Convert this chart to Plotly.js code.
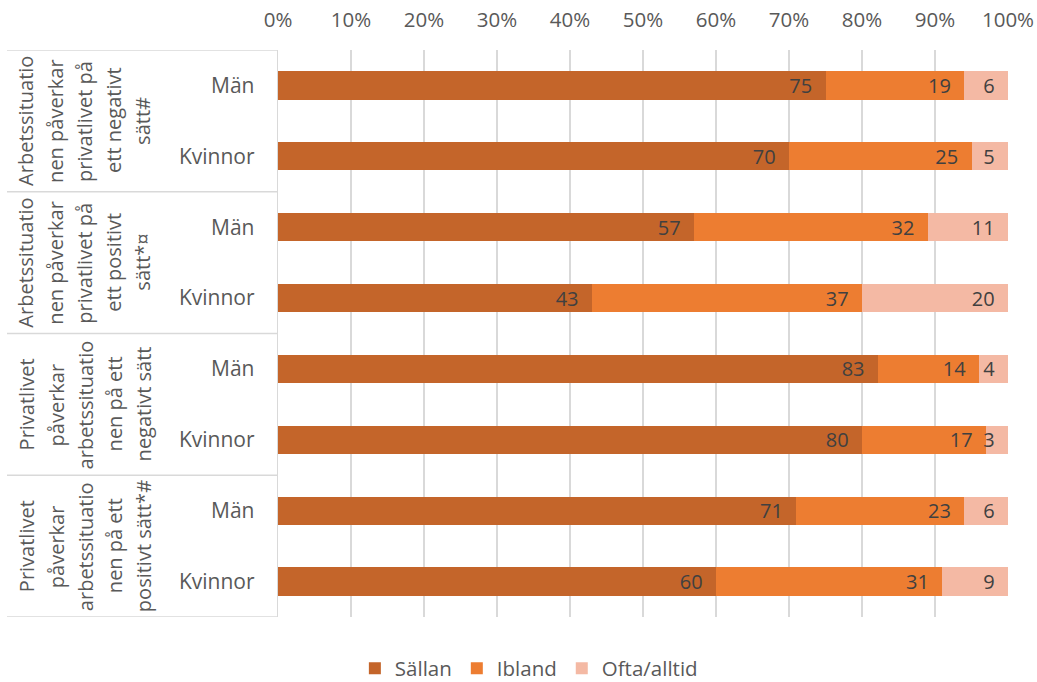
<!DOCTYPE html>
<html>
<head>
<meta charset="utf-8">
<script src="https://cdn.plot.ly/plotly-3.0.1.min.js"></script>
<style>html,body{margin:0;padding:0;background:#fff}#chart{width:1037px;height:682px}</style>
</head>
<body>
<div id="chart"></div>
<script>
// ---- data ----
const groupLabels = [
  ["Arbetssituatio", "nen påverkar", "privatlivet på", "ett negativt", "sätt#"],
  ["Arbetssituatio", "nen påverkar", "privatlivet på", "ett positivt", "sätt*¤"],
  ["Privatlivet", "påverkar", "arbetssituatio", "nen på ett", "negativt sätt"],
  ["Privatlivet", "påverkar", "arbetssituatio", "nen på ett", "positivt sätt*#"]
];
const subCategories = ["Män", "Kvinnor", "Män", "Kvinnor", "Män", "Kvinnor", "Män", "Kvinnor"];
const seriesNames = ["Sällan", "Ibland", "Ofta/alltid"];
const sallan = [75, 70, 57, 43, 83, 80, 71, 60];
const ibland = [19, 25, 32, 37, 14, 17, 23, 31];
const ofta   = [6, 5, 11, 20, 4, 3, 6, 9];
const xTicks = [0, 10, 20, 30, 40, 50, 60, 70, 80, 90, 100];

// ---- styles ----
const colors = ["#C4652A", "#ED7D31", "#F4B9A4"];
const FONT = "'Open Sans', Lato, sans-serif";
const rows = subCategories.map((_, i) => i);
const series = [sallan, ibland, ofta];

const traces = series.map((vals, k) => ({
  type: "bar",
  orientation: "h",
  name: seriesNames[k],
  y: rows,
  x: vals,
  text: vals.map(String),
  texttemplate: "%{text}\u00a0\u00a0",
  textposition: "inside",
  insidetextanchor: "end",
  textangle: 0,
  constraintext: "none",
  textfont: {family: FONT, size: 20, color: "#404040"},
  marker: {color: colors[k], line: {width: 0}},
  hoverinfo: "skip"
}));

// group label box lines and rotated labels
const plotLeft = 278, plotW = 730;
const px2paper = p => (p - plotLeft) / plotW;
const shapes = [];
[-0.5, 1.5, 3.5, 5.5, 7.5].forEach(yv => {
  shapes.push({type: "line", xref: "paper", yref: "y", x0: px2paper(7), x1: 0, y0: yv, y1: yv,
    line: {color: "#D9D9D9", width: 1.3}});
});
const annotations = [];
const lineX = [26, 56, 85, 114, 143];
groupLabels.forEach((lines, g) => {
  lines.forEach((t, j) => {
    annotations.push({
      xref: "paper", yref: "y", x: px2paper(lineX[j]), y: g * 2 + 0.5,
      text: t, showarrow: false, textangle: -90,
      xanchor: "center", yanchor: "middle",
      font: {family: FONT, size: 20, color: "#595959"}
    });
  });
});

const layout = {
  width: 1037, height: 682,
  margin: {l: plotLeft, r: 1037 - plotLeft - plotW, t: 50, b: 65},
  barmode: "stack",
  barnorm: "percent",
  bargap: 0.6,
  paper_bgcolor: "#fff", plot_bgcolor: "#fff",
  font: {family: FONT, size: 20, color: "#595959"},
  xaxis: {
    side: "top", range: [0, 100], tickvals: xTicks, ticktext: xTicks.map(v => v + "%"),
    showgrid: true, gridcolor: "#D9D9D9", gridwidth: 1.3, zeroline: false,
    showline: false, ticks: "", fixedrange: true, ticklabelstandoff: 18,
    tickfont: {family: FONT, size: 20.5, color: "#595959"}
  },
  yaxis: {
    range: [7.5, -0.5], tickvals: rows, ticktext: subCategories,
    showgrid: false, zeroline: false, showline: true, linecolor: "#D9D9D9", linewidth: 1.3,
    ticks: "", ticklabelstandoff: 18,
    tickfont: {family: FONT, size: 21, color: "#595959"}
  },
  showlegend: true,
  legend: {
    orientation: "h", xref: "container", yref: "container",
    x: 0.51, xanchor: "center", y: 0.02, yanchor: "middle",
    font: {family: FONT, size: 20.5, color: "#595959"},
    traceorder: "normal", itemwidth: 30
  },
  shapes: shapes,
  annotations: annotations
};

Plotly.newPlot("chart", traces, layout, {displayModeBar: false, staticPlot: true});
</script>
</body>
</html>
